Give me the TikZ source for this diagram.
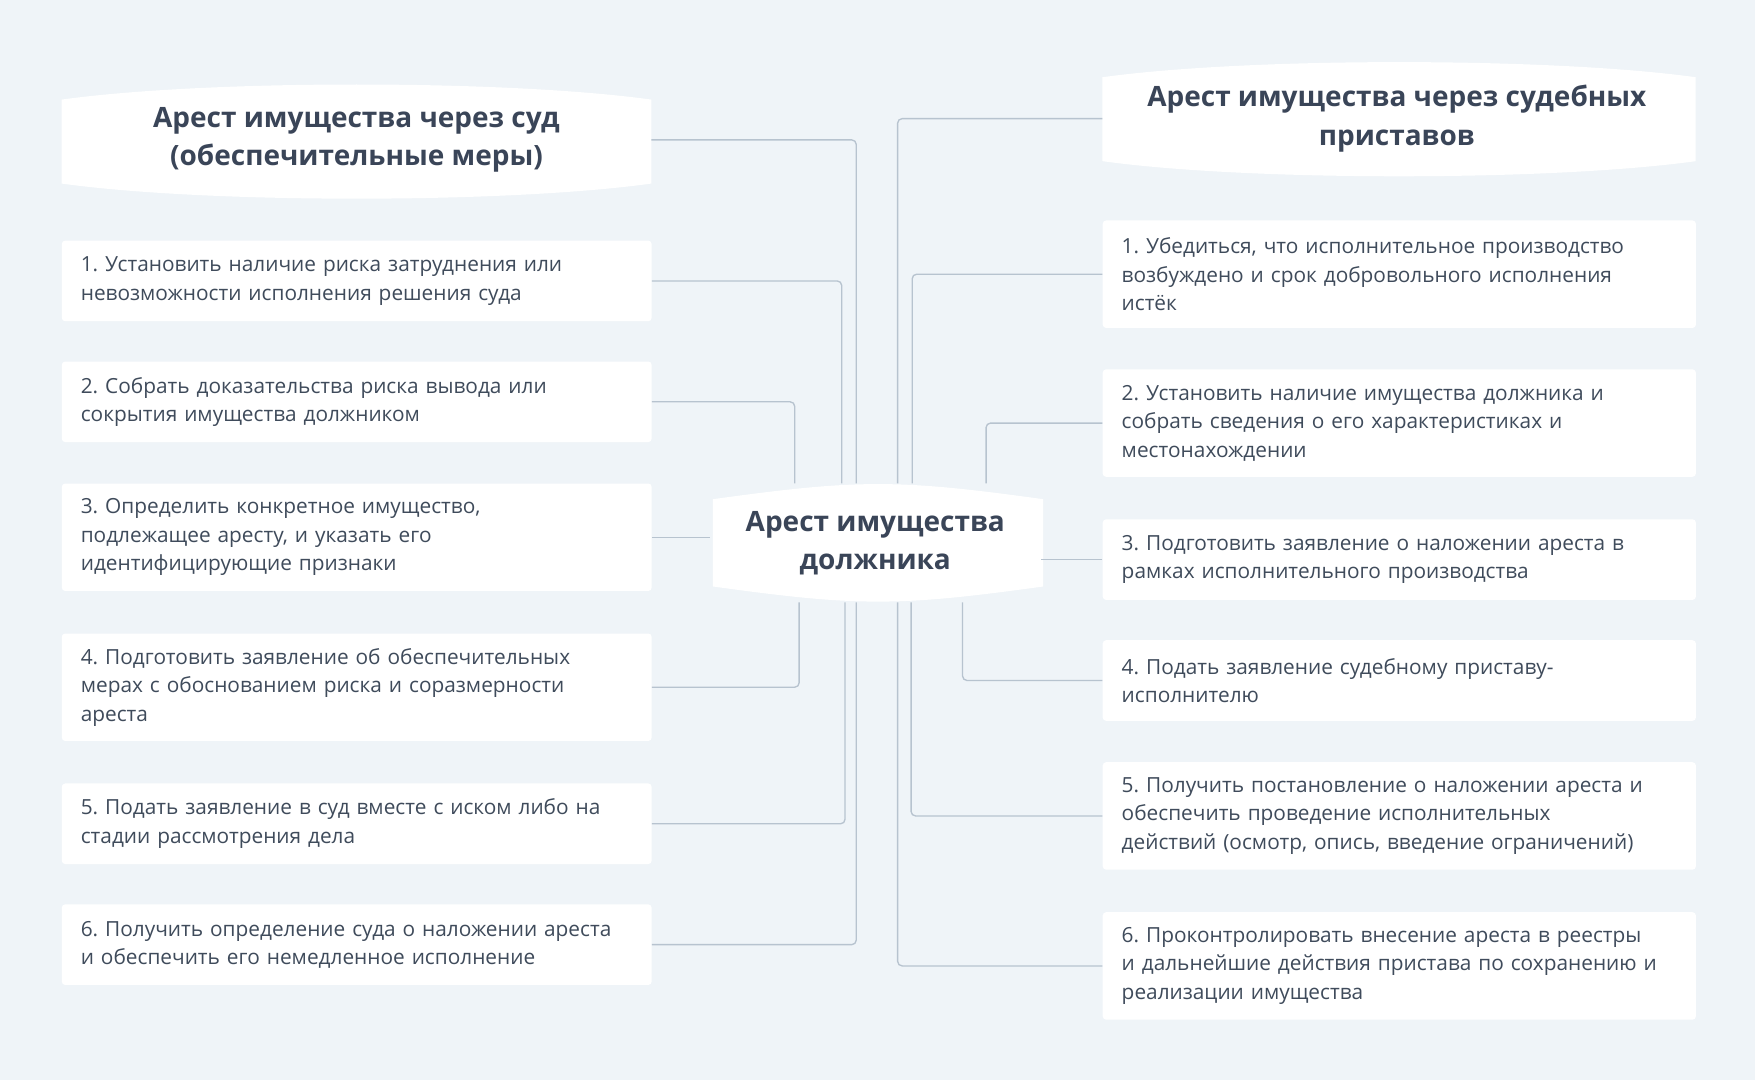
\documentclass[tikz,border=0pt]{standalone}
\usepackage{fontspec}
\setmainfont{Open Sans}
\begin{document}
\frenchspacing
\begin{tikzpicture}[x=1pt,y=-1pt,
  conn/.style={draw=lineC,line width=1.2pt,rounded corners=4pt},
  item/.style={fill=white,rounded corners=3pt,minimum width=#1,inner xsep=17,align=left,
    text width=#1-34,font=\fontsize{18.6}{25.5}\selectfont,text=txtC,anchor=west},
  item/.default=527,
  headtxt/.style={align=center,font=\fontsize{25}{34}\selectfont\bfseries,text=headC}]
\definecolor{bgC}{HTML}{EFF4F8}
\definecolor{lineC}{HTML}{B7C3CF}
\definecolor{txtC}{HTML}{3F4B5B}
\definecolor{headC}{HTML}{3A4558}
\fill[bgC] (0,0) rectangle (1568,965);
\useasboundingbox (0,0) rectangle (1568,965);
\def\head#1#2#3#4{\fill[white] (#1,#2+14) .. controls (#1+130,#2-4) and (#3-130,#2-4) .. (#3,#2+14) -- (#3,#4-14) .. controls (#3-130,#4+4) and (#1+130,#4+4) .. (#1,#4-14) -- cycle;}
\head{55}{75}{582}{178}
\head{985}{55}{1515}{158}
\head{637}{432}{932}{538}
\node[headtxt] (hl) at (318.5,125) {Арест имущества через суд\\(обеспечительные меры)};
\node[headtxt] (hr) at (1248,106) {Арест имущества через судебных\\приставов};
\node[headtxt,minimum width=295,minimum height=106] (c) at (782,485) {Арест имущества\\должника};
\coordinate (hle) at (582,125);
\coordinate (hrw) at (985,106);
% left items
\node[item,minimum height=72] (l1) at (55,251) {1. Установить наличие риска затруднения или\\невозможности исполнения решения суда};
\node[item,minimum height=72] (l2) at (55,359) {2. Собрать доказательства риска вывода или\\сокрытия имущества должником};
\node[item,minimum height=96] (l3) at (55,480) {3. Определить конкретное имущество,\\подлежащее аресту, и указать его\\идентифицирующие признаки};
\node[item,minimum height=96] (l4) at (55,614) {4. Подготовить заявление об обеспечительных\\мерах с обоснованием риска и соразмерности\\ареста};
\node[item,minimum height=72] (l5) at (55,736) {5. Подать заявление в суд вместе с иском либо на\\стадии рассмотрения дела};
\node[item,minimum height=72] (l6) at (55,844) {6. Получить определение суда о наложении ареста\\и обеспечить его немедленное исполнение};
% right items
\node[item=530,minimum height=96] (r1) at (985,245) {1. Убедиться, что исполнительное производство\\возбуждено и срок добровольного исполнения\\истёк};
\node[item=530,minimum height=96] (r2) at (985,378) {2. Установить наличие имущества должника и\\собрать сведения о его характеристиках и\\местонахождении};
\node[item=530,minimum height=72] (r3) at (985,500) {3. Подготовить заявление о наложении ареста в\\рамках исполнительного производства};
\node[item=530,minimum height=72] (r4) at (985,608) {4. Подать заявление судебному приставу-\\исполнителю};
\node[item=530,minimum height=96] (r5) at (985,729) {5. Получить постановление о наложении ареста и\\обеспечить проведение исполнительных\\действий (осмотр, опись, введение ограничений)};
\node[item=530,minimum height=96] (r6) at (985,863) {6. Проконтролировать внесение ареста в реестры\\и дальнейшие действия пристава по сохранению и\\реализации имущества};
% connectors left
\draw[conn] (hle) -| (c.north -| 765,0);
\draw[conn] (l1.east) -| (c.north -| 752,0);
\draw[conn] (l2.east) -| (c.north -| 710,0);
\draw[conn] (l3.east) -- (c.west |- l3.east);
\draw[conn] (l4.east) -| (c.south -| 714,0);
\draw[conn] (l5.east) -| (c.south -| 755,0);
\draw[conn] (l6.east) -| (c.south -| 765,0);
% connectors right
\draw[conn] (hrw) -| (c.north -| 802,0);
\draw[conn] (r1.west) -| (c.north -| 815,0);
\draw[conn] (r2.west) -| (c.north -| 881,0);
\draw[conn] (r3.west) -- (c.east |- r3.west);
\draw[conn] (r4.west) -| (c.south -| 860,0);
\draw[conn] (r5.west) -| (c.south -| 814,0);
\draw[conn] (r6.west) -| (c.south -| 802,0);
\end{tikzpicture}
\end{document}
